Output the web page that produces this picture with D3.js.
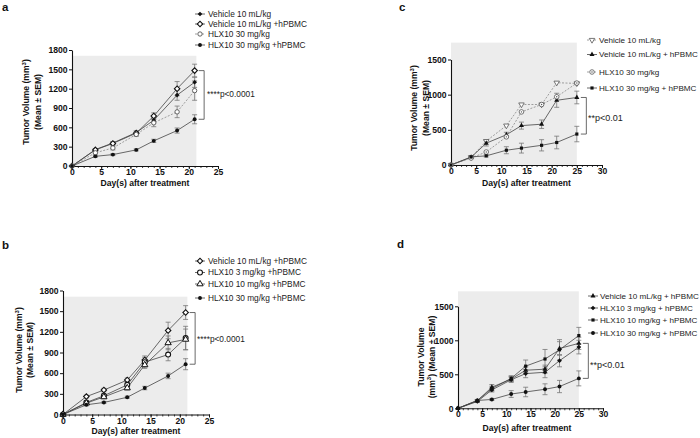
<!DOCTYPE html>
<html><head><meta charset="utf-8">
<script src="https://cdn.jsdelivr.net/npm/d3@7"></script>
<style>
body{margin:0;background:#fff;}
svg{font-family:"Liberation Sans",Arial,sans-serif;}
</style></head><body>
<svg id="chart" width="700" height="438"></svg>
<script>
// ---------- data ----------
const daysAB = [0, 4, 7, 11, 14, 18, 21];
const daysCD = [0, 4, 7, 11, 14, 18, 21, 25];
const xTicksAB = [0, 5, 10, 15, 20, 25];
const xTicksCD = [0, 5, 10, 15, 20, 25, 30];
const yTicksAB = [0, 300, 600, 900, 1200, 1500, 1800];
const yTicksCD = [0, 500, 1000, 1500];

// panel a
const aNames = ["Vehicle 10 mL/kg", "Vehicle 10 mL/kg +hPBMC", "HLX10 30 mg/kg", "HLX10 30 mg/kg +hPBMC"];
const aVehicle     = [0, 255, 357, 520, 710, 1100, 1300];
const aVehicleErr  = [0, 15, 20, 25, 40, 80, 80];
const aVehicleHP   = [0, 250, 350, 510, 775, 1200, 1480];
const aVehicleHPErr= [0, 20, 25, 30, 50, 110, 100];
const aHLX30       = [0, 205, 280, 490, 670, 840, 1170];
const aHLX30Err    = [0, 20, 30, 30, 60, 90, 150];
const aHLX30HP     = [0, 150, 177, 250, 390, 550, 725];
const aHLX30HPErr  = [0, 15, 15, 15, 25, 40, 70];

// panel b
const bNames = ["Vehicle 10 mL/kg +hPBMC", "HLX10 3 mg/kg +hPBMC", "HLX10 10 mg/kg +hPBMC", "HLX10 30 mg/kg +hPBMC"];
const bVehicleHP   = [0, 260, 355, 500, 790, 1220, 1480];
const bVehicleHPErr= [0, 20, 25, 30, 60, 120, 100];
const bHLX3        = [0, 175, 272, 430, 760, 870, 1110];
const bHLX3Err     = [0, 20, 30, 40, 70, 90, 170];
const bHLX10       = [0, 165, 255, 385, 720, 1040, 1090];
const bHLX10Err    = [0, 20, 25, 30, 50, 100, 150];
const bHLX30       = [0, 141, 175, 250, 384, 560, 730];
const bHLX30Err    = [0, 15, 15, 15, 25, 40, 80];

// panel c
const cNames = ["Vehicle 10 mL/kg", "Vehicle 10 mL/kg + hPBMC", "HLX10 30 mg/kg", "HLX10 30 mg/kg + hPBMC"];
const cVehicle     = [0, 110, 340, 560, 860, 860, 1170, 1160];
const cVehicleErr  = [0, 0, 0, 0, 0, 0, 0, 0];
const cVehicleHP   = [0, 110, 310, 430, 560, 580, 920, 960];
const cVehicleHPErr= [0, 15, 40, 35, 50, 60, 100, 90];
const cHLX30       = [0, 100, 185, 400, 755, 860, 970, 1165];
const cHLX30Err    = [0, 0, 0, 0, 0, 0, 0, 0];
const cHLX30HP     = [0, 115, 130, 210, 240, 280, 320, 440];
const cHLX30HPErr  = [0, 10, 15, 50, 70, 80, 90, 110];

// panel d
const dNames = ["Vehicle 10 mL/kg + hPBMC", "HLX10 3 mg/kg + hPBMC", "HLX10 10 mg/kg + hPBMC", "HLX10 30 mg/kg + hPBMC"];
const dVehicleHP   = [0, 110, 310, 430, 560, 575, 880, 955];
const dVehicleHPErr= [0, 15, 40, 35, 50, 60, 100, 90];
const dHLX3        = [0, 100, 270, 420, 510, 530, 700, 900];
const dHLX3Err     = [0, 15, 30, 40, 60, 80, 90, 100];
const dHLX10       = [0, 115, 290, 440, 620, 725, 860, 1070];
const dHLX10Err    = [0, 15, 35, 40, 90, 140, 150, 120];
const dHLX30       = [0, 115, 130, 210, 240, 280, 320, 440];
const dHLX30Err    = [0, 10, 15, 50, 70, 80, 90, 110];

// ---------- drawing ----------
const svg = d3.select("#chart");
const INK = "#111";

function marker(g, type, cx, cy) {
  const sym = (t, s) => d3.symbol().type(t).size(s)();
  let p, rot = 0;
  switch (type) {
    case "diamondFilled": p = g.append("path").attr("d", sym(d3.symbolSquare, 11)).attr("fill", INK); rot = 45; break;
    case "diamondOpen": p = g.append("path").attr("d", sym(d3.symbolSquare, 15)).attr("fill", "#fff").attr("stroke", INK).attr("stroke-width", 1.1); rot = 45; break;
    case "circleOpen": p = g.append("path").attr("d", sym(d3.symbolCircle, 15)).attr("fill", "#fff").attr("stroke", "#555").attr("stroke-width", 0.9); break;
    case "circleOpenBig": p = g.append("path").attr("d", sym(d3.symbolCircle, 19)).attr("fill", "#fff").attr("stroke", INK).attr("stroke-width", 1.1); break;
    case "circleFilled": p = g.append("path").attr("d", sym(d3.symbolCircle, 12)).attr("fill", INK); break;
    case "triangleOpen": p = g.append("path").attr("d", sym(d3.symbolTriangle, 17)).attr("fill", "#fff").attr("stroke", INK).attr("stroke-width", 1); break;
    case "triangleDownOpen": p = g.append("path").attr("d", sym(d3.symbolTriangle, 13)).attr("fill", "#fff").attr("stroke", "#555").attr("stroke-width", 0.8); rot = 180; break;
    case "triangleFilled": p = g.append("path").attr("d", sym(d3.symbolTriangle, 11)).attr("fill", INK); break;
    case "squareFilled": p = g.append("path").attr("d", sym(d3.symbolSquare, 10)).attr("fill", INK); break;
    case "circleDotOpen":
      g.append("circle").attr("cx", cx).attr("cy", cy).attr("r", 2.3).attr("fill", "#fff").attr("stroke", "#555").attr("stroke-width", 0.8);
      g.append("circle").attr("cx", cx).attr("cy", cy).attr("r", 0.7).attr("fill", "#555");
      return;
  }
  p.attr("transform", `translate(${cx},${cy})` + (rot ? ` rotate(${rot})` : ""));
}

function labelWithSup(sel, t) {
  const i = t.indexOf("³");
  if (i < 0) { sel.text(t); return; }
  sel.append("tspan").text(t.slice(0, i));
  sel.append("tspan").attr("dy", -3.5).attr("font-size", 6).text("3");
  sel.append("tspan").attr("dy", 3.5).text(t.slice(i + 1));
}

function drawPanel(P) {
  const g = svg.append("g");
  const x = d3.scaleLinear().domain(P.xDomain).range(P.xRange);
  const y = d3.scaleLinear().domain(P.yDomain).range(P.yRange);

  g.append("rect")
    .attr("x", x(0)).attr("y", y(P.shadeTop))
    .attr("width", x(P.shadeRight) - x(0)).attr("height", y(0) - y(P.shadeTop))
    .attr("fill", "#ececec");

  // minor x ticks
  const gxMinor = g.append("g").attr("transform", `translate(0,${y(0)})`)
    .call(d3.axisBottom(x).tickValues(d3.range(P.xDomain[0], P.xDomain[1] + 1, 1)).tickSize(2).tickFormat(""));
  gxMinor.select(".domain").remove();
  gxMinor.selectAll("line").attr("stroke", INK).attr("stroke-width", 0.8);

  const gx = g.append("g").attr("transform", `translate(0,${y(0)})`)
    .call(d3.axisBottom(x).tickValues(P.xTicks).tickSize(3).tickSizeOuter(0).tickPadding(0).tickFormat(d3.format("d")));
  const gy = g.append("g").attr("transform", `translate(${x(0)},0)`)
    .call(d3.axisLeft(y).tickValues(P.yTicks).tickSize(3).tickSizeOuter(0).tickPadding(1.5).tickFormat(d3.format("d")));
  [gx, gy].forEach(a => {
    a.select(".domain").attr("stroke", INK).attr("stroke-width", 1.1);
    a.selectAll(".tick line").attr("stroke", INK).attr("stroke-width", 1);
    a.selectAll("text").attr("font-size", 8.6).attr("font-weight", "bold").attr("fill", INK)
      .attr("font-family", '"Liberation Sans",Arial,sans-serif');
  });

  // axis labels
  g.append("text").attr("x", P.xLabelX).attr("y", P.xLabelY).attr("text-anchor", "middle")
    .attr("font-size", 8.6).attr("font-weight", "bold").attr("fill", INK).text("Day(s) after treatment");
  P.yLabel.forEach((t, i) => {
    const tx = g.append("text").attr("transform", `translate(${P.yLabelX[i]},${P.yLabelY}) rotate(-90)`)
      .attr("text-anchor", "middle").attr("font-size", 8.6).attr("font-weight", "bold").attr("fill", INK);
    labelWithSup(tx, t);
  });

  // panel letter
  g.append("text").attr("x", P.letterPos[0]).attr("y", P.letterPos[1]).attr("font-size", 11.5)
    .attr("font-weight", "bold").attr("fill", INK).text(P.letter);

  const days = P.days;
  // error bars
  P.series.forEach(s => {
    s.values.forEach((v, i) => {
      const e = s.errors[i];
      if (!e) return;
      const cx = x(days[i]);
      g.append("line").attr("x1", cx).attr("x2", cx).attr("y1", y(v - e)).attr("y2", y(v + e))
        .attr("stroke", "#777").attr("stroke-width", 0.8);
      [v - e, v + e].forEach(w => g.append("line").attr("x1", cx - 2.5).attr("x2", cx + 2.5)
        .attr("y1", y(w)).attr("y2", y(w)).attr("stroke", "#777").attr("stroke-width", 0.8));
    });
  });
  // lines
  const line = d3.line().x((d, i) => x(days[i])).y(d => y(d));
  P.series.forEach(s => {
    g.append("path").attr("d", line(s.values)).attr("fill", "none")
      .attr("stroke", s.dashed ? "#888" : "#444").attr("stroke-width", 0.8)
      .attr("stroke-dasharray", s.dashed ? "2,1.5" : null);
  });
  // markers
  P.series.forEach(s => {
    s.values.forEach((v, i) => marker(g, s.marker, x(days[i]), y(v)));
  });

  // legend
  P.series.forEach((s, i) => {
    const ly = P.legendY[i];
    g.append("line").attr("x1", P.legendX - 5).attr("x2", P.legendX + 5).attr("y1", ly).attr("y2", ly)
      .attr("stroke", s.dashed ? "#888" : "#444").attr("stroke-width", 0.8)
      .attr("stroke-dasharray", s.dashed ? "2,1.5" : null);
    marker(g, s.marker, P.legendX, ly);
    g.append("text").attr("x", P.legendTextX).attr("y", ly).attr("dy", "0.35em")
      .attr("font-size", P.legendFont).attr("fill", "#222").text(s.name);
  });

  // significance bracket
  const last = days[days.length - 1];
  const bx1 = x(last) + 4, bx2 = x(last) + 9.5;
  g.append("path")
    .attr("d", `M${bx1},${y(P.bracket[0])}H${bx2}V${y(P.bracket[1])}H${bx1}`)
    .attr("fill", "none").attr("stroke", "#444").attr("stroke-width", 0.8);
  g.append("text").attr("x", P.pPos[0]).attr("y", P.pPos[1]).attr("font-size", P.pFont)
    .attr("fill", "#222").text(P.pText);
}

const panels = [
  {
    letter: "a", letterPos: [2, 11], days: daysAB,
    xDomain: [0, 25], xRange: [72, 218], yDomain: [0, 1800], yRange: [166, 50],
    xTicks: xTicksAB, yTicks: yTicksAB, shadeRight: 21.3, shadeTop: 1710,
    xLabelX: 145, xLabelY: 185.5,
    yLabel: ["Tumor Volume (mm³)", "(Mean ± SEM)"], yLabelX: [29, 41], yLabelY: 102,
    legendX: 200, legendTextX: 208, legendY: [14, 24, 34, 45], legendFont: 8.3,
    bracket: [1480, 725], pText: "****p<0.0001", pPos: [207, 96.5], pFont: 8.3,
    series: [
      { name: aNames[0], values: aVehicle, errors: aVehicleErr, marker: "diamondFilled" },
      { name: aNames[1], values: aVehicleHP, errors: aVehicleHPErr, marker: "diamondOpen" },
      { name: aNames[2], values: aHLX30, errors: aHLX30Err, marker: "circleOpen", dashed: true },
      { name: aNames[3], values: aHLX30HP, errors: aHLX30HPErr, marker: "circleFilled" }
    ]
  },
  {
    letter: "b", letterPos: [2, 249], days: daysAB,
    xDomain: [0, 25], xRange: [63, 209], yDomain: [0, 1800], yRange: [414.5, 290.5],
    xTicks: xTicksAB, yTicks: yTicksAB, shadeRight: 21.3, shadeTop: 1710,
    xLabelX: 136, xLabelY: 434,
    yLabel: ["Tumor Volume (mm³)", "(Mean ± SEM)"], yLabelX: [22, 33], yLabelY: 350,
    legendX: 200, legendTextX: 208, legendY: [261, 272.5, 284, 298], legendFont: 8.3,
    bracket: [1480, 730], pText: "****p<0.0001", pPos: [197, 341.5], pFont: 8.3,
    series: [
      { name: bNames[0], values: bVehicleHP, errors: bVehicleHPErr, marker: "diamondOpen" },
      { name: bNames[1], values: bHLX3, errors: bHLX3Err, marker: "circleOpenBig" },
      { name: bNames[2], values: bHLX10, errors: bHLX10Err, marker: "triangleOpen" },
      { name: bNames[3], values: bHLX30, errors: bHLX30Err, marker: "circleFilled" }
    ]
  },
  {
    letter: "c", letterPos: [399, 11], days: daysCD,
    xDomain: [0, 30], xRange: [451, 602], yDomain: [0, 1500], yRange: [165, 59.5],
    xTicks: xTicksCD, yTicks: yTicksCD, shadeRight: 25, shadeTop: 1740,
    xLabelX: 526.5, xLabelY: 185.5,
    yLabel: ["Tumor Volume (mm³)", "(Mean ± SEM)"], yLabelX: [417, 429], yLabelY: 108,
    legendX: 592, legendTextX: 599, legendY: [40, 54.5, 72, 88], legendFont: 8.1,
    bracket: [960, 440], pText: "**p<0.01", pPos: [588, 121], pFont: 9,
    series: [
      { name: cNames[0], values: cVehicle, errors: cVehicleErr, marker: "triangleDownOpen", dashed: true },
      { name: cNames[1], values: cVehicleHP, errors: cVehicleHPErr, marker: "triangleFilled" },
      { name: cNames[2], values: cHLX30, errors: cHLX30Err, marker: "circleDotOpen", dashed: true },
      { name: cNames[3], values: cHLX30HP, errors: cHLX30HPErr, marker: "squareFilled" }
    ]
  },
  {
    letter: "d", letterPos: [397, 248], days: daysCD,
    xDomain: [0, 30], xRange: [458, 603], yDomain: [0, 1500], yRange: [408.3, 306.3],
    xTicks: xTicksCD, yTicks: yTicksCD, shadeRight: 25, shadeTop: 1720,
    xLabelX: 527, xLabelY: 430.5,
    yLabel: ["Tumor Volume", "(mm³) (Mean ± SEM)"], yLabelX: [424, 434.5], yLabelY: 357,
    legendX: 593, legendTextX: 600, legendY: [296, 308, 320, 333], legendFont: 8.1,
    bracket: [955, 440], pText: "**p<0.01", pPos: [590, 368], pFont: 9,
    series: [
      { name: dNames[0], values: dVehicleHP, errors: dVehicleHPErr, marker: "triangleFilled" },
      { name: dNames[1], values: dHLX3, errors: dHLX3Err, marker: "diamondFilled" },
      { name: dNames[2], values: dHLX10, errors: dHLX10Err, marker: "squareFilled" },
      { name: dNames[3], values: dHLX30, errors: dHLX30Err, marker: "circleFilled" }
    ]
  }
];

panels.forEach(drawPanel);
</script>
</body></html>
